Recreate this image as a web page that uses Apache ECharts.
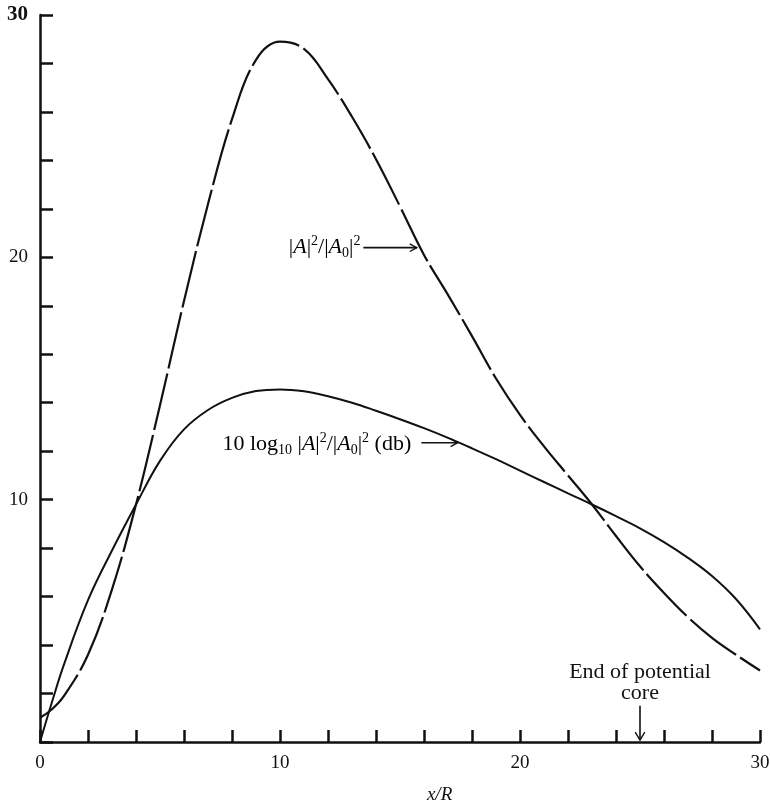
<!DOCTYPE html>
<html>
<head>
<meta charset="utf-8">
<script src="https://cdn.jsdelivr.net/npm/echarts@6/dist/echarts.min.js"></script>
<style>
  html, body { margin: 0; padding: 0; background: #fff; }
  #chart { width: 770px; height: 810px; }
</style>
</head>
<body>
<div id="chart"></div>
<script>
// x/R positions shared by both curves
const xValues = [0, 0.5, 1, 2, 3, 4, 5, 6, 7, 8, 9, 10, 11, 12, 13, 14, 15, 16, 17, 18, 19, 20, 21, 22, 23, 24, 25, 26, 27, 28, 29, 30]
// |A|^2/|A0|^2 (dashed curve)
const ampSquared = [1.0, 1.35, 1.9, 3.6, 6.3, 9.8, 13.9, 18.2, 22.2, 25.7, 28.15, 28.9, 28.6, 27.35, 25.8, 24.05, 22.1, 20.1, 18.45, 16.75, 15.0, 13.5, 12.2, 11.0, 9.8, 8.5, 7.25, 6.15, 5.15, 4.3, 3.6, 2.95]
// 10 log10 |A|^2/|A0|^2 in db (solid curve)
const ampDb = [0, 1.65, 3.2, 5.85, 7.9, 9.8, 11.6, 12.9, 13.7, 14.2, 14.48, 14.55, 14.47, 14.27, 14.0, 13.67, 13.32, 12.95, 12.55, 12.12, 11.67, 11.2, 10.73, 10.26, 9.8, 9.32, 8.82, 8.25, 7.6, 6.85, 5.9, 4.65]
const labelledTicks = [0, 10, 20, 30]

const serif = '"Liberation Serif", "DejaVu Serif", serif'
const ink = '#111'

const chart = echarts.init(document.getElementById('chart'))

chart.setOption({
  animation: false,
  backgroundColor: '#fff',
  grid: { left: 40, right: 10, top: 15, bottom: 68, containLabel: false, outerBoundsMode: 'none' },
  xAxis: {
    type: 'value',
    min: 0,
    max: 30,
    interval: 2,
    axisLine: { lineStyle: { color: ink, width: 2.5 } },
    axisTick: { inside: true, length: 12, lineStyle: { color: ink, width: 2.5 } },
    axisLabel: {
      margin: 12,
      fontFamily: serif,
      fontSize: 19,
      color: ink,
      formatter: v => (labelledTicks.includes(v) ? String(v) : ''),
    },
    splitLine: { show: false },
  },
  yAxis: {
    type: 'value',
    min: 0,
    max: 30,
    interval: 2,
    axisLine: { lineStyle: { color: ink, width: 2.5 } },
    axisTick: { inside: true, length: 13, lineStyle: { color: ink, width: 2.5 } },
    axisLabel: {
      margin: 12,
      fontFamily: serif,
      fontSize: 19,
      color: ink,
      formatter: (v) => {
        if (v === 30)
          return '{b|30}'
        return v !== 0 && labelledTicks.includes(v) ? String(v) : ''
      },
      rich: { b: { fontFamily: serif, fontSize: 21, fontWeight: 'bold', color: ink } },
    },
    splitLine: { show: false },
  },
  series: [
    {
      name: 'amp',
      type: 'line',
      data: xValues.map((x, i) => [x, ampSquared[i]]),
      smooth: 0.4,
      showSymbol: false,
      lineStyle: { color: ink, width: 2.2, type: [58, 5] },
    },
    {
      name: 'db',
      type: 'line',
      data: xValues.map((x, i) => [x, ampDb[i]]),
      smooth: 0.4,
      showSymbol: false,
      lineStyle: { color: ink, width: 2 },
    },
  ],
})

// annotations, anchored to data coordinates
const px = (x, y) => chart.convertToPixel({ gridIndex: 0 }, [x, y])

const rich = {
  n: { fontFamily: serif, fontSize: 22, color: ink, lineHeight: 26 },
  i: { fontFamily: serif, fontSize: 22, fontStyle: 'italic', color: ink, lineHeight: 26 },
  sup: { fontFamily: serif, fontSize: 14, color: ink, lineHeight: 14, verticalAlign: 'top' },
  sub: { fontFamily: serif, fontSize: 14, color: ink, lineHeight: 10, verticalAlign: 'bottom' },
}
const ampText = '{n||}{i|A}{n||}{sup|2}{n|/|}{i|A}{sub|0}{n||}{sup|2}'
const dbText = '{n|10 log}{sub|10}{n| |}{i|A}{n||}{sup|2}{n|/|}{i|A}{sub|0}{n||}{sup|2}{n| (db)}'

function arrow(from, to, head = 7) {
  const dir = Math.sign(to[0] - from[0]) || 1
  const vertical = from[0] === to[0]
  const headPts = vertical
    ? [[to[0] - head * 0.6, to[1] - head], to, [to[0] + head * 0.6, to[1] - head]]
    : [[to[0] - dir * head, to[1] - head * 0.55], to, [to[0] - dir * head, to[1] + head * 0.55]]
  return [
    { type: 'line', shape: { x1: from[0], y1: from[1], x2: to[0], y2: to[1] }, style: { stroke: ink, lineWidth: 1.6 } },
    { type: 'polyline', shape: { points: headPts }, style: { stroke: ink, lineWidth: 1.4, fill: null } },
  ]
}

const ampEnd = px(13.35, 20.4)
const ampTip = px(15.7, 20.4)
const dbStart = px(7.6, 12.28)
const dbTip = px(17.4, 12.35)
const coreMid = px(25, 2.45)
const coreArrowTop = px(25, 1.5)
const coreArrowTip = px(25, 0.08)
const axisMid = px(16.65, 0)

chart.setOption({
  graphic: [
    {
      type: 'text',
      x: ampEnd[0],
      y: ampEnd[1],
      style: { text: ampText, rich, align: 'right', verticalAlign: 'middle' },
    },
    ...arrow([ampEnd[0] + 3, ampTip[1]], ampTip),
    {
      type: 'text',
      x: dbStart[0],
      y: dbStart[1],
      style: { text: dbText, rich, align: 'left', verticalAlign: 'middle' },
    },
    ...arrow([dbStart[0] + 199, dbTip[1]], dbTip),
    {
      type: 'text',
      x: coreMid[0],
      y: coreMid[1],
      style: {
        text: 'End of potential\ncore',
        fontFamily: serif,
        fontSize: 22,
        lineHeight: 21,
        fill: ink,
        align: 'center',
        verticalAlign: 'middle',
      },
    },
    ...arrow(coreArrowTop, coreArrowTip, 8),
    {
      type: 'text',
      x: axisMid[0],
      y: axisMid[1] + 53,
      style: {
        text: 'x/R',
        fontFamily: serif,
        fontSize: 19,
        fontStyle: 'italic',
        fill: ink,
        align: 'center',
        verticalAlign: 'middle',
      },
    },
  ],
})
</script>
</body>
</html>
